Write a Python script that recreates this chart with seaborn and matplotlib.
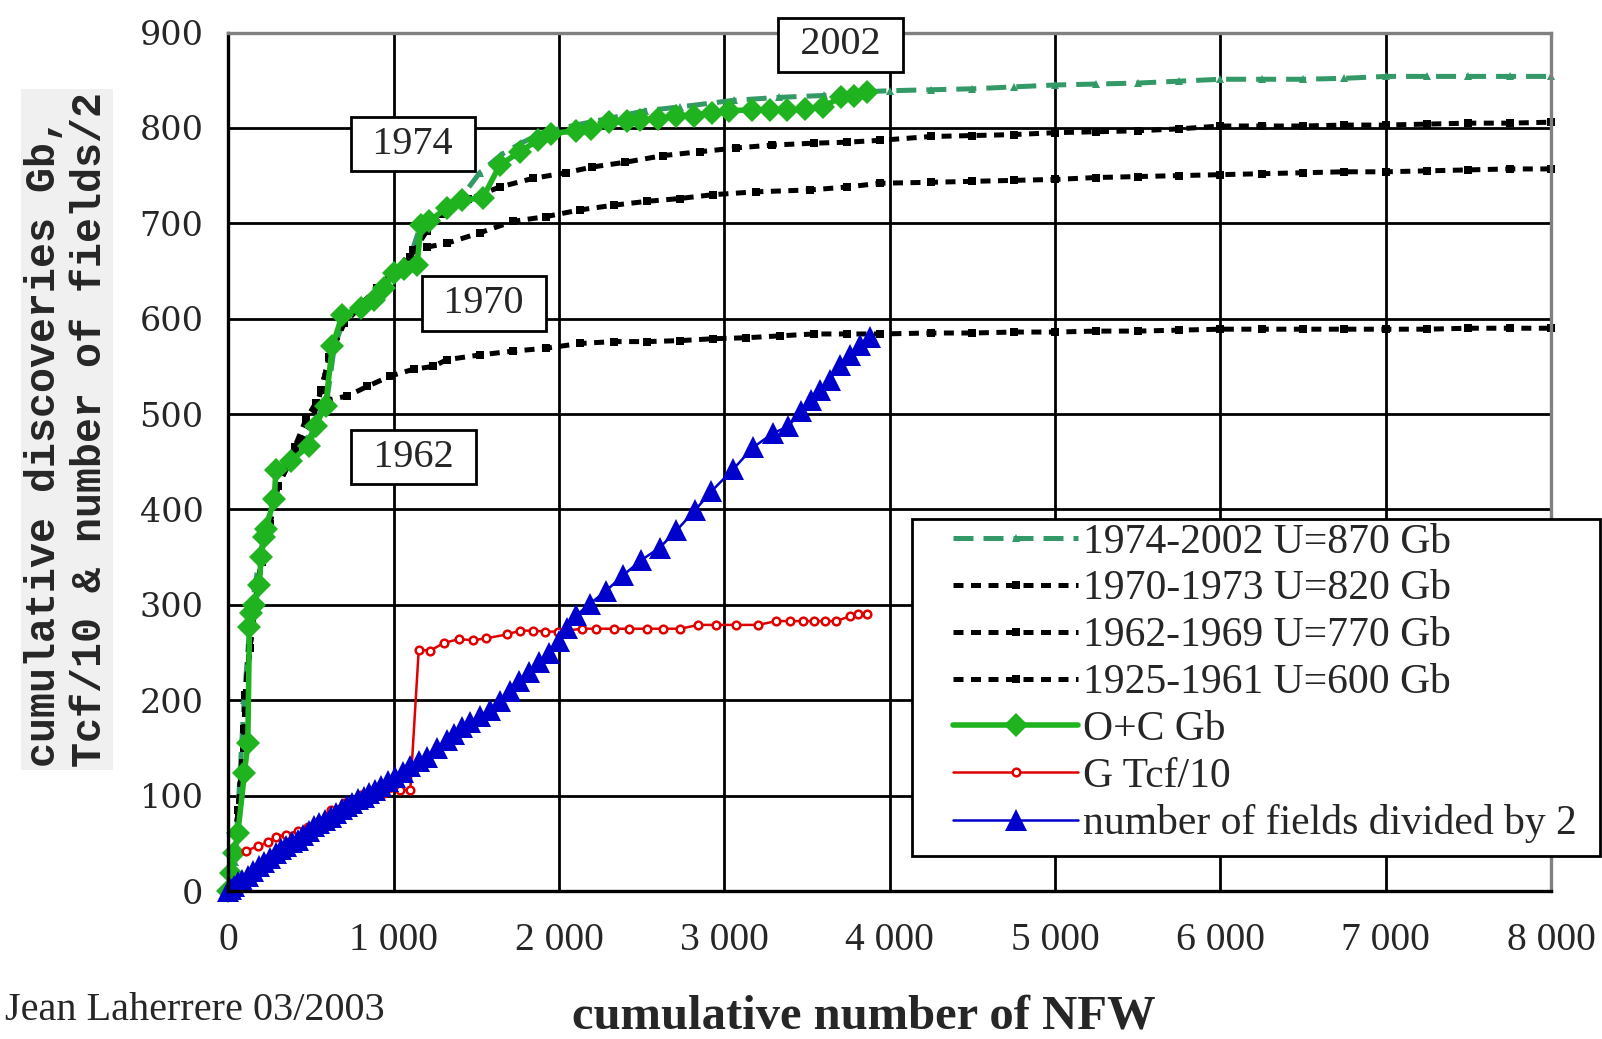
import matplotlib
matplotlib.use("Agg")
import matplotlib.pyplot as plt
from matplotlib.patches import Rectangle
import seaborn as sns

sns.set_style("white")
plt.rcParams['font.family'] = ['Liberation Serif', 'DejaVu Serif']

# ── data ────────────────────────────────────────────────────────────────────
xticks = [0, 1000, 2000, 3000, 4000, 5000, 6000, 7000, 8000]
xtick_labels = ["0", "1 000", "2 000", "3 000", "4 000", "5 000", "6 000", "7 000", "8 000"]
yticks = [0, 100, 200, 300, 400, 500, 600, 700, 800, 900]

# model 1974-2002 U=870 Gb
m1974_x = [0, 40, 95, 130, 160, 200, 270, 300, 400, 500, 600, 640, 700, 800, 900, 1000, 1100, 1160,
           1300, 1420, 1520, 1650, 1770, 1900, 2100, 2300, 2520, 2730, 3060, 3330, 3600, 3865, 4000,
           4250, 4500, 4750, 5000, 5250, 5500, 5750, 6000, 6250, 6500, 6750, 7000, 7250, 7500, 7750, 8000]
m1974_y = [0, 30, 200, 280, 320, 360, 410, 440, 460, 480, 520, 570, 600, 615, 630, 650, 665, 697,
           712, 730, 753, 772, 784, 795, 803, 810, 818, 822, 829, 832, 834, 838, 839,
           840, 841, 843, 845, 846, 847, 849, 851, 851, 851, 852, 854, 854, 854, 854, 854]

# model 1970-1973 U=820 Gb
m1970_x = [0, 60, 95, 100, 130, 160, 200, 250, 300, 400, 500, 560, 610, 700, 800, 900, 1000, 1100,
           1200, 1300, 1450, 1640, 1840, 2040, 2200, 2400, 2630, 2850, 3070, 3290, 3540, 3740, 3940,
           4250, 4500, 4750, 5000, 5250, 5500, 5750, 6000, 6250, 6500, 6750, 7000, 7250, 7500, 7750, 8000]
m1970_y = [0, 85, 170, 205, 255, 300, 345, 385, 425, 460, 490, 525, 560, 598, 615, 632, 650, 665,
           692, 710, 725, 738, 747, 753, 759, 764, 771, 775, 779, 782, 784, 785, 787,
           791, 792, 793, 795, 796, 797, 799, 802, 802, 802, 803, 803, 804, 805, 805, 806]

# model 1962-1969 U=770 Gb
m1962_x = [0, 60, 95, 100, 130, 160, 200, 250, 300, 400, 500, 560, 610, 700, 800, 900, 1000, 1117,
           1200, 1320, 1520, 1720, 1920, 2125, 2330, 2530, 2730, 2930, 3190, 3520, 3740, 3940,
           4250, 4500, 4750, 5000, 5250, 5500, 5750, 6000, 6250, 6500, 6750, 7000, 7250, 7500, 7750, 8000]
m1962_y = [0, 85, 170, 205, 255, 300, 345, 385, 425, 460, 490, 525, 560, 595, 613, 628, 648, 672,
           675, 679, 690, 702, 707, 714, 719, 723, 726, 730, 733, 735, 738, 742,
           743, 744, 745, 746, 748, 749, 750, 751, 752, 753, 754, 754, 755, 756, 757, 757]

# model 1925-1961 U=600 Gb
m1925_x = [0, 60, 95, 100, 130, 160, 200, 250, 300, 400, 470, 530, 720, 840, 980, 1120, 1240, 1320,
           1520, 1720, 1920, 2125, 2330, 2530, 2730, 2930, 3130, 3335, 3540, 3740, 3940,
           4250, 4500, 4750, 5000, 5250, 5500, 5750, 6000, 6250, 6500, 6750, 7000, 7250, 7500, 7750, 8000]
m1925_y = [0, 85, 170, 205, 255, 300, 345, 385, 425, 465, 495, 512, 519, 529, 540, 547, 550, 557,
           562, 566, 569, 574, 576, 576, 577, 579, 580, 582, 584, 584, 584,
           585, 585, 586, 586, 587, 587, 588, 589, 589, 589, 589, 589, 589, 590, 590, 590]

# O+C Gb
oc_x = [0, 15, 36, 57, 97, 117, 127, 137, 157, 187, 197, 217, 227, 277, 287, 378, 488, 528, 588, 628,
        689, 799, 880, 940, 1000, 1060, 1140, 1165, 1212, 1320, 1414, 1540, 1641, 1762, 1870, 1953,
        2101, 2195, 2303, 2411, 2492, 2599, 2707, 2815, 2923, 3030, 3165, 3273, 3380, 3488, 3596,
        3703, 3785, 3865]
oc_y = [0, 19, 40, 61, 124, 155, 277, 292, 300, 321, 350, 371, 380, 411, 441, 451, 467, 488, 509, 571,
        604, 611, 620, 632, 648, 652, 656, 698, 702, 716, 724, 727, 761, 775, 787, 794,
        797, 799, 806, 807, 808, 809, 813, 813, 816, 818, 819, 819, 819, 820, 822,
        832, 833, 838]

# G Tcf/10
gas_x = [106, 177, 237, 287, 347, 418, 480, 540, 618, 699, 799, 870, 940, 1040, 1100, 1151, 1221, 1301,
         1392, 1482, 1560, 1684, 1764, 1845, 1912, 1993, 2141, 2222, 2330, 2424, 2532, 2626, 2734,
         2842, 2950, 3071, 3205, 3313, 3394, 3475, 3542, 3609, 3677, 3757, 3810, 3860]
gas_y = [42, 47, 51, 57, 59, 63, 67, 72, 85, 92, 101, 102, 103, 106, 106, 253, 252, 260,
         264, 263, 265, 269, 273, 273, 272, 272, 275, 275, 275, 275, 275, 275, 275,
         279, 279, 279, 279, 283, 283, 283, 283, 283, 283, 288, 290, 290]

# number of fields / 2
nf_x = [0, 15, 36, 60, 85, 116, 150, 185, 217, 250, 285, 317, 350, 385, 418, 450, 485, 518, 550, 585,
        618, 650, 685, 719, 750, 785, 819, 850, 885, 920, 965, 1010, 1055, 1100, 1150, 1201, 1260,
        1321, 1365, 1412, 1460, 1520, 1580, 1640, 1700, 1760, 1820, 1880, 1940, 2000, 2050, 2105,
        2185, 2286, 2387, 2498, 2609, 2710, 2821, 2921, 3052, 3173, 3294, 3385, 3466, 3526, 3577,
        3637, 3698, 3758, 3819, 3879]
nf_y = [0, 2, 5, 9, 12, 16, 21, 26, 30, 35, 40, 44, 47, 51, 54, 59, 63, 68, 71, 75,
        78, 82, 86, 89, 92, 96, 99, 103, 106, 110, 115, 120, 125, 131, 136, 141, 150,
        158, 165, 172, 177, 184, 190, 199, 210, 220, 230, 240, 250, 262, 276, 289,
        301, 315, 331, 347, 360, 378, 399, 419, 442, 465, 480, 487, 503, 515, 525,
        536, 551, 562, 572, 581]

# year boxes
year_labels = ["1974", "2002", "1970", "1962"]
year_x = [1116, 3700, 1545, 1120]
year_y = [783, 887, 616, 455]

# ── figure ──────────────────────────────────────────────────────────────────
fig = plt.figure(figsize=(16.02, 10.39), dpi=100)
ax = fig.add_axes([0.1426, 0.1424, 0.8256, 0.8263])

dots = (0, (2.0, 1.5))
common = dict(ax=ax, sort=False, estimator=None, clip_on=False)
sns.lineplot(x=m1974_x, y=m1974_y, color="#339966", lw=3.6, linestyle=(0, (4, 2)),
             marker="^", markersize=6, markeredgewidth=0, label="1974-2002 U=870 Gb", **common)
sns.lineplot(x=m1970_x, y=m1970_y, color="black", lw=3.6, linestyle=dots,
             marker="s", markersize=5.5, markeredgewidth=0, label="1970-1973 U=820 Gb", **common)
sns.lineplot(x=m1962_x, y=m1962_y, color="black", lw=3.6, linestyle=dots,
             marker="s", markersize=5.5, markeredgewidth=0, label="1962-1969 U=770 Gb", **common)
sns.lineplot(x=m1925_x, y=m1925_y, color="black", lw=3.6, linestyle=dots,
             marker="s", markersize=5.5, markeredgewidth=0, label="1925-1961 U=600 Gb", **common)
sns.lineplot(x=oc_x, y=oc_y, color="#1fb31f", lw=4.0, marker="D", markersize=12.5,
             markeredgewidth=0, label="O+C Gb", **common)
sns.lineplot(x=gas_x, y=gas_y, color="#e00000", lw=1.8, marker="o", markersize=5.5,
             markerfacecolor="white", markeredgecolor="#e00000", markeredgewidth=1.8,
             label="G Tcf/10", **common)
sns.lineplot(x=nf_x, y=nf_y, color="#0000cc", lw=1.8, marker="^", markersize=16,
             markeredgewidth=0, label="number of fields divided by 2", **common)

ax.set_xlim(0, 8000)
ax.set_ylim(0, 900)
ax.set_xticks(xticks)
ax.set_xticklabels(xtick_labels, fontsize=28.5)
ax.set_yticks(yticks)
ax.set_yticklabels([str(v) for v in yticks], fontsize=24, family=['DejaVu Serif'])
ax.tick_params(axis='x', direction='out', length=8, width=2, pad=14, color='black')
ax.tick_params(axis='y', direction='out', length=6, width=2, pad=12, color='black')
ax.set_xlabel("")
ax.set_ylabel("")

ax.set_axisbelow(True)
ax.grid(True, color="black", lw=2.0)
for side in ["left", "bottom"]:
    ax.spines[side].set_color("black")
    ax.spines[side].set_linewidth(2.4)
for side in ["top", "right"]:
    ax.spines[side].set_color("#808080")
    ax.spines[side].set_linewidth(2.4)

for lab, xx, yy in zip(year_labels, year_x, year_y):
    ax.text(xx, yy, "\u2004" + lab + "\u2004", ha="center", va="center", fontsize=29, zorder=6,
            bbox=dict(boxstyle="square,pad=0.22", fc="white", ec="black", lw=2))

# legend with its own frame
handles, labels = ax.get_legend_handles_labels()
leg = ax.legend(handles, labels, loc="upper left", bbox_to_anchor=(0.5949, 0.4965),
                bbox_transform=fig.transFigure, frameon=False, fontsize=30,
                borderpad=0, borderaxespad=0, labelspacing=0.2, handlelength=3.0,
                handletextpad=0.12, numpoints=1)
leg.set_zorder(7)
ax.add_patch(Rectangle((0.5693, 0.1761), 0.4295, 0.3243, transform=fig.transFigure,
                       fc="white", ec="black", lw=2, zorder=6.5, clip_on=False))

fig.text(0.042, 0.587, "cumulative discoveries Gb,\nTcf/10 & number of fields/2",
         rotation=90, ha="center", va="center", multialignment="left", fontsize=30,
         family=["Liberation Mono", "DejaVu Sans Mono"], weight="bold",
         bbox=dict(fc="#f0f0f0", ec="none", pad=2))
fig.text(0.003, 0.027, "Jean Laherrere 03/2003", ha="left", va="center", fontsize=29)
fig.text(0.539, 0.022, "cumulative number of NFW", ha="center", va="center",
         fontsize=35, weight="bold")

fig.savefig("out.png", dpi=100)
plt.close(fig)
